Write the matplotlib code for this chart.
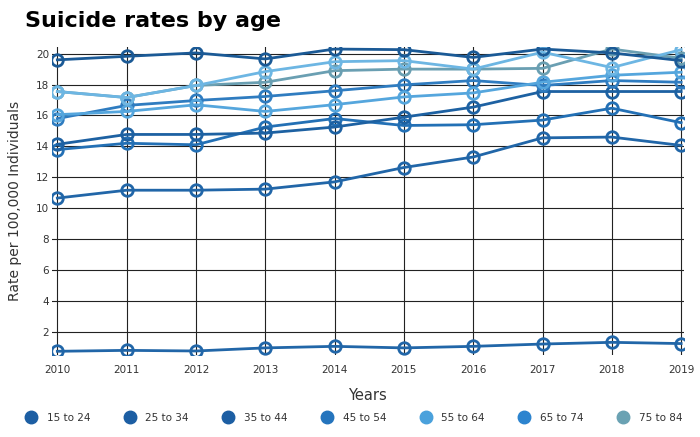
import matplotlib
matplotlib.use('Agg')
import matplotlib.pyplot as plt
from matplotlib.lines import Line2D

years = [2010, 2011, 2012, 2013, 2014, 2015, 2016, 2017, 2018, 2019]

# values (rate per 100,000)
age_15_24 = [10.65, 11.16, 11.16, 11.23, 11.7, 12.63, 13.31, 14.55, 14.6, 14.06]
age_25_34 = [14.13, 14.77, 14.77, 14.86, 15.25, 15.89, 16.54, 17.55, 17.55, 17.55]
age_35_44 = [15.8, 16.65, 16.97, 17.23, 17.6, 17.98, 18.26, 17.94, 18.26, 18.15]
age_45_54 = [19.6, 19.83, 20.05, 19.66, 20.3, 20.26, 19.76, 20.3, 20.05, 19.55]
age_55_64 = [17.55, 17.16, 17.94, 18.84, 19.48, 19.55, 19.0, 20.1, 19.1, 20.26]
age_65_74 = [13.79, 14.2, 14.1, 15.25, 15.8, 15.35, 15.4, 15.7, 16.47, 15.53]
age_75_84 = [17.55, 17.16, 17.94, 18.15, 18.9, 19.0, 19.0, 19.05, 20.3, 19.7]
# two more lines are drawn in the chart but not shown in its legend
age_85_up = [16.05, 16.26, 16.69, 16.26, 16.7, 17.2, 17.46, 18.15, 18.6, 18.8]
age_10_14 = [0.73, 0.79, 0.75, 0.95, 1.05, 0.95, 1.05, 1.2, 1.31, 1.23]

legend_names = ['15 to 24', '25 to 34', '35 to 44', '45 to 54',
                '55 to 64', '65 to 74', '75 to 84']
legend_colors = ['#1c5ea3', '#1c5ea3', '#1c5ea3', '#2474bd',
                 '#4aa1dc', '#2c84cf', '#6aa2b3']

series = [
    (age_10_14, '#2166a8'),
    (age_15_24, '#2166a8'),
    (age_65_74, '#2370b5'),
    (age_25_34, '#1d61a2'),
    (age_35_44, '#2f7cc0'),
    (age_85_up, '#55a6dd'),
    (age_75_84, '#6a9fb2'),
    (age_55_64, '#6db6e3'),
    (age_45_54, '#1b5a96'),
]

fig = plt.figure(figsize=(7, 4.37), dpi=100)
ax = fig.add_axes([0.074, 0.188, 0.903, 0.704])

for vals, col in series:
    ax.plot(years, vals, color=col, lw=2.0, marker='o', ms=8.3,
            mfc='none', mec=col, mew=2.0, zorder=3)

ax.set_xlim(2009.92, 2019.04)
ax.set_ylim(0.5, 20.42)
ax.set_xticks(years)
ax.set_yticks(range(2, 21, 2))
ax.grid(True, color='#222222', lw=0.8, zorder=0)
ax.set_axisbelow(True)
for s in ax.spines.values():
    s.set_visible(False)
ax.tick_params(length=0, labelsize=7.5, labelcolor='#333333')
ax.tick_params(axis='x', pad=7)
ax.tick_params(axis='y', pad=2)

ax.set_xlabel('Years', fontsize=10.5, color='#333333', labelpad=10)
ax.set_ylabel('Rate per 100,000 Individuals', fontsize=10, color='#333333',
              labelpad=10)

fig.text(0.036, 0.952, 'Suicide rates by age', fontsize=16,
         fontweight='bold', va='center', ha='left', color='black')

handles = [Line2D([], [], ls='none', marker='o', ms=9, color=c)
           for c in legend_colors]
fig.legend(handles, legend_names, loc='center', bbox_to_anchor=(0.502, 0.044),
           ncol=7, frameon=False, fontsize=7.5, handletextpad=0.5,
           columnspacing=2.8, labelcolor='#333333')

fig.savefig('out.png', dpi=100)
